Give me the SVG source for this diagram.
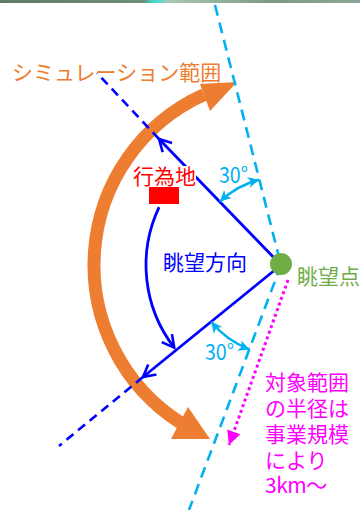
<svg xmlns="http://www.w3.org/2000/svg" width="360" height="510" viewBox="0 0 360 510">
  <defs>
    <linearGradient id="strip" x1="0" y1="0" x2="1" y2="0">
      <stop offset="0" stop-color="#5f7a6a"/>
      <stop offset="0.4" stop-color="#6e8f7c"/>
      <stop offset="0.43" stop-color="#3fe0d0"/>
      <stop offset="0.47" stop-color="#a8c8b0"/>
      <stop offset="0.75" stop-color="#7a9a86"/>
      <stop offset="1" stop-color="#8aa898"/>
    </linearGradient>
    <marker id="openB" viewBox="-14 -8 16 16" refX="0" refY="0" markerWidth="16" markerHeight="16" orient="auto" markerUnits="userSpaceOnUse" overflow="visible">
      <path d="M-12,-6.5 L0,0 L-12,6.5" fill="none" stroke="#0000FF" stroke-width="2.6" stroke-linejoin="miter"/>
    </marker>
    <marker id="cyanHead" viewBox="-11 -6 12 12" refX="0" refY="0" markerWidth="12" markerHeight="12" orient="auto-start-reverse" markerUnits="userSpaceOnUse" overflow="visible">
      <path d="M-11,-5.5 L0,0 L-11,5.5 L-8,0 z" fill="#00B0F0"/>
    </marker>
    <marker id="pinkHead" viewBox="-15 -8 16 16" refX="0" refY="0" markerWidth="16" markerHeight="16" orient="auto" markerUnits="userSpaceOnUse" overflow="visible">
      <path d="M-14,-7 L0,0 L-14,7 z" fill="#FF00FF"/>
    </marker>
    <style>
      text { font-family: "Noto Sans CJK JP", "Liberation Sans", sans-serif; font-size: 21px; }
      .deg { font-size: 22px; }
      .blueSolid { stroke: #0000FF; stroke-width: 2.8; fill: none; }
      .blueDash { stroke: #0000FF; stroke-width: 2.6; fill: none; stroke-dasharray: 9 6; }
      .cyanDash { stroke: #00B0F0; stroke-width: 2.6; fill: none; stroke-dasharray: 11 7; }
      .cyanArc { stroke: #00B0F0; stroke-width: 2.6; fill: none; }
      .pinkDot { stroke: #FF00FF; stroke-width: 3; fill: none; stroke-dasharray: 3 3; }
    </style>
  </defs>

  <rect x="0" y="0" width="360" height="510" fill="#FFFFFF"/>
  <rect x="0" y="0" width="360" height="3" fill="url(#strip)"/>

  <g id="connectors">
    <g id="sim-range-arrow">
      <path d="M 204 94.6 A 187 187 0 0 0 180.8 422.9" fill="none" stroke="#ED7D31" stroke-width="13"/>
      <polygon points="237,82 200,84 210,111" fill="#ED7D31"/>
      <polygon points="210,439 171,439 188,407" fill="#ED7D31"/>
    </g>
    <path class="cyanDash" d="M 215 5 L 281 265"/>
    <path class="cyanDash" d="M 281 265 L 189 510"/>
    <path class="blueDash" d="M 159 139 L 97 73"/>
    <path class="blueDash" d="M 143 377 L 59 446"/>
    <path class="blueSolid" d="M 281 265 L 159 139" marker-end="url(#openB)"/>
    <path class="blueSolid" d="M 281 265 L 143 377" marker-end="url(#openB)"/>
    <path class="blueSolid" d="M 159.1 207.1 A 135 135 0 0 0 174.2 347.6" marker-end="url(#openB)"/>
    <path class="cyanArc" d="M 220 201.6 A 88 88 0 0 1 259.1 179.8" marker-start="url(#cyanHead)" marker-end="url(#cyanHead)"/>
    <path class="cyanArc" d="M 211.2 321.8 A 90 90 0 0 0 249.6 349.4" marker-start="url(#cyanHead)" marker-end="url(#cyanHead)"/>
    <path class="pinkDot" d="M 288 280 L 229 445" marker-end="url(#pinkHead)"/>
  </g>

  <g id="sim-range-label">
    <text x="12" y="80" fill="#ED7D31">シミュレーション範囲</text>
  </g>

  <g id="action-site">
    <rect x="132" y="166" width="64" height="20" fill="#FFFFFF"/>
    <text x="133" y="184" fill="#FF0000">行為地</text>
    <rect x="149" y="187" width="30" height="17" fill="#FF0000"/>
  </g>

  <g id="view-direction">
    <text x="163" y="270" fill="#0000FF">眺望方向</text>
  </g>

  <g id="viewpoint">
    <circle cx="281" cy="264" r="11" fill="#70AD47"/>
    <text x="297" y="284" fill="#70AD47">眺望点</text>
  </g>

  <g id="angle-upper">
    <text class="deg" x="219" y="183" fill="#00B0F0" textLength="29" lengthAdjust="spacingAndGlyphs">30°</text>
  </g>
  <g id="angle-lower">
    <text class="deg" x="205" y="360" fill="#00B0F0" textLength="29" lengthAdjust="spacingAndGlyphs">30°</text>
  </g>

  <g id="radius-note" fill="#FF00FF">
    <text x="265" y="390">対象範囲</text>
    <text x="265" y="416">の半径は</text>
    <text x="265" y="442">事業規模</text>
    <text x="265" y="468">により</text>
    <text x="265" y="493" letter-spacing="-0.5">3km～</text>
  </g>
</svg>
